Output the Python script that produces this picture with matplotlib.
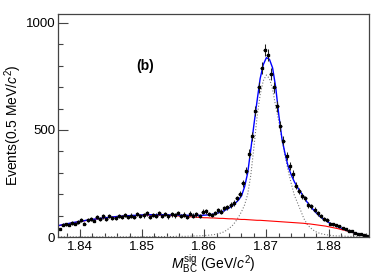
import numpy as np
import matplotlib
matplotlib.use('Agg')
import matplotlib.pyplot as plt
from matplotlib.ticker import MultipleLocator

plt.rcParams['font.family'] = ['Liberation Sans', 'DejaVu Sans']
plt.rcParams['mathtext.fontset'] = 'custom'
plt.rcParams['mathtext.rm'] = 'Liberation Sans'
plt.rcParams['mathtext.it'] = 'Liberation Sans:italic'

# fit range, 100 bins of 0.5 MeV
m_lo, m_hi = 1.8365, 1.8865
nbins = 100

# events per bin
counts = [38, 58, 60, 57, 66, 63, 70, 78, 62, 80,
          84, 77, 92, 85, 96, 83, 98, 90, 87, 99,
          95, 104, 92, 100, 95, 108, 97, 101, 110, 94,
          104, 100, 113, 98, 108, 96, 106, 101, 112, 97,
          105, 95, 109, 100, 106, 98,
          118, 120, 108, 104, 112, 125, 118, 135, 140, 150, 158, 180, 200,
          250, 310, 390, 470, 590, 700, 790, 874, 850, 760, 700, 610, 520, 450,
          380, 330, 295, 240, 215, 190, 180, 150, 143, 128, 110, 99, 86, 80,
          62, 60, 55, 50, 42, 38, 30, 27, 18, 16, 12, 8, 3]

# curves sampled every 0.5 MeV from m_lo to m_hi
bkg_curve = [52, 55, 58, 61, 64, 67, 69, 72, 74, 77,
             79, 81, 83, 85, 87, 89, 90, 92, 93, 95,
             96, 97, 98, 99, 100, 100, 101, 101, 102, 102,
             102, 102, 102, 102, 101, 101, 100, 100, 99, 98,
             97, 96, 95, 94, 93, 92, 91,
             90, 90, 89, 89, 88, 87, 87, 86, 85, 85, 84, 83, 82, 82, 81, 80, 79, 78, 78, 77, 76,
             75, 74, 73, 72, 71, 70, 69, 68, 67, 66, 65, 64,
             62, 61, 59, 57, 55, 53, 51, 48, 45, 42, 39, 35, 32, 28, 24, 20, 16, 12, 8, 4, 0]

sig_curve = [1, 1, 1, 1, 1, 1, 1, 1, 1, 1,
             1, 1, 1, 1, 1, 1, 1, 1, 1, 1,
             1, 1, 1, 1, 1, 1, 1, 2, 2, 2,
             2, 2, 2, 2, 2, 2, 2, 2, 3, 3,
             3, 3, 4, 4, 5, 5, 6,
             7, 8, 9, 11, 13, 17, 22, 30, 40, 52, 70, 92, 118, 150, 200, 290, 420, 560, 665, 730, 757,
             740, 690, 610, 540, 460, 380, 310, 250, 195, 160, 125, 88,
             62, 45, 33, 24, 18, 14, 11, 9, 7, 5, 5, 4, 4, 3, 3, 2, 2, 2, 1, 1, 1]

total_curve = [53, 56, 59, 62, 65, 68, 70, 73, 75, 78,
               80, 82, 84, 86, 88, 90, 91, 93, 94, 96,
               97, 98, 99, 100, 101, 101, 102, 103, 104, 104,
               104, 104, 104, 104, 104, 104, 103, 103, 103, 102,
               102, 102, 101, 101, 101, 101, 101,
               102, 103, 104, 107, 111, 115, 120, 127, 135, 145, 158, 172, 192, 235, 300, 410, 525, 635, 740, 805, 838,
               830, 790, 700, 570, 460, 390, 330, 290, 258, 232, 210, 188,
               165, 147, 129, 113, 99, 88, 78, 68, 61, 55, 48, 42, 36, 31, 26, 21, 17, 13, 9, 4, 0]

centers = np.linspace(m_lo, m_hi, nbins + 1)[:-1] + 0.5 * (m_hi - m_lo) / nbins
grid = np.linspace(m_lo, m_hi, len(total_curve))
counts = np.array(counts, dtype=float)

fig = plt.figure(figsize=(3.89, 2.79), dpi=100)
ax = fig.add_axes([58/389, 1 - 237/279, 311/389, 223/279])

ax.plot(grid, sig_curve, color='#777777', ls=':', lw=0.8)
ax.plot(grid, bkg_curve, color='red', lw=0.8)
ax.plot(grid, total_curve, color='blue', lw=1.0)
ax.errorbar(centers, counts, yerr=np.sqrt(counts), xerr=0.00025, fmt='s', ms=1.8,
            color='black', ecolor='#222222', elinewidth=0.75, capsize=0)

ax.set_xlim(m_lo, m_hi)
ax.set_ylim(0, 1042)
ax.set_yticks([0, 500, 1000])
ax.yaxis.set_minor_locator(MultipleLocator(100))
ax.set_xticks([1.84, 1.85, 1.86, 1.87, 1.88])
ax.set_xticklabels(['1.84', '1.85', '1.86', '1.87', '1.88'])
ax.xaxis.set_minor_locator(MultipleLocator(0.002))
ax.tick_params(which='both', direction='in', top=False, right=False, labelsize=9.5,
               color='#444444', width=0.8)
ax.tick_params(axis='y', which='major', length=7, pad=2)
ax.tick_params(axis='y', which='minor', length=3.5)
ax.tick_params(axis='x', which='major', length=5.5, pad=3)
ax.tick_params(axis='x', which='minor', length=3)
for s in ax.spines.values():
    s.set_color('#444444')
    s.set_linewidth(0.9)

ax.set_ylabel('Events(0.5 MeV/$c^2$)', fontsize=10, labelpad=1)
ax.set_xlabel(r'$M_{\rm BC}^{\rm sig}$ (GeV/$c^2$)', fontsize=10, labelpad=0)
ax.text(1.8505, 800, '(b)', fontsize=10, fontweight='bold', ha='center', va='center')

fig.savefig('out.png', dpi=100)
